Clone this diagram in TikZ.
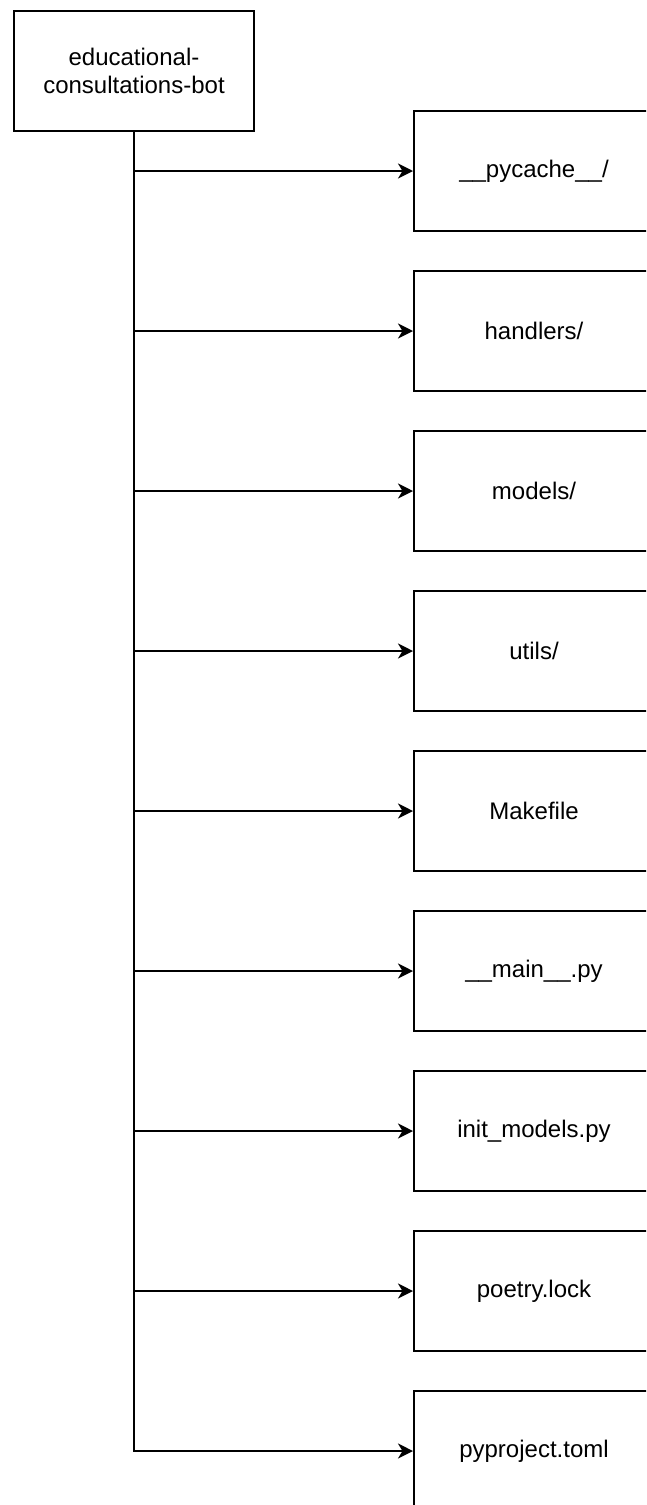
\documentclass[tikz,border=0pt]{standalone}
\usepackage{fontspec}
\setmainfont{Liberation Sans}
\usetikzlibrary{arrows.meta}
\begin{document}
\begin{tikzpicture}[x=1pt,y=-1pt,
  box/.style={draw=black, line width=2pt, minimum width=240pt, minimum height=120pt, inner sep=0pt, font=\fontsize{24pt}{28pt}\selectfont, align=center, anchor=north west},
  conn/.style={draw=black, line width=2pt, -{Stealth[length=15pt,width=15pt,inset=4.5pt]}}]
\useasboundingbox (0,0) rectangle (646,1505);
\clip (0,0) rectangle (646,1505);
\node[box] (root) at (13,10) {educational-\\consultations-bot};
\foreach \i/\t in {0/{\_\_pycache\_\_/}, 1/{handlers/}, 2/{models/}, 3/{utils/}, 4/Makefile, 5/\_\_main\_\_.py, 6/init\_models.py, 7/poetry.lock, 8/pyproject.toml}{
  \node[box] (c\i) at (413,{110+160*\i}) {\t};
  \draw[conn] (root.south) |- (c\i.west);
}
\end{tikzpicture}
\end{document}
